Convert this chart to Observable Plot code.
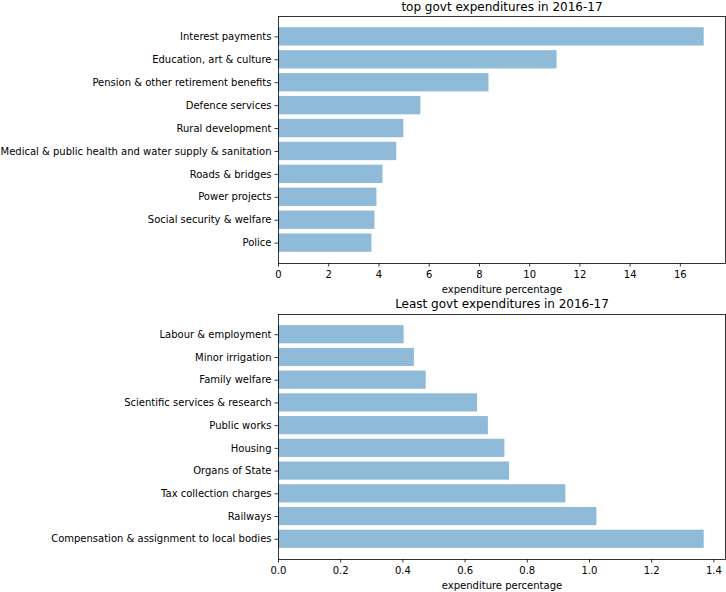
<!DOCTYPE html>
<html>
<head>
<meta charset="utf-8">
<script src="https://cdn.jsdelivr.net/npm/d3@7"></script>
<script src="https://cdn.jsdelivr.net/npm/@observablehq/plot@0.6"></script>
<style>
  html, body { margin: 0; padding: 0; background: #fff; }
  #chart { width: 726px; }
  #chart svg { display: block; }
</style>
</head>
<body>
<div id="chart"></div>
<script>
const topCategories = [
  "Interest payments",
  "Education, art & culture",
  "Pension & other retirement benefits",
  "Defence services",
  "Rural development",
  "Medical & public health and water supply & sanitation",
  "Roads & bridges",
  "Power projects",
  "Social security & welfare",
  "Police"
];
const topValues = [16.95, 11.09, 8.38, 5.67, 4.99, 4.71, 4.16, 3.92, 3.84, 3.72];

const leastCategories = [
  "Labour & employment",
  "Minor irrigation",
  "Family welfare",
  "Scientific services & research",
  "Public works",
  "Housing",
  "Organs of State",
  "Tax collection charges",
  "Railways",
  "Compensation & assignment to local bodies"
];
const leastValues = [0.404, 0.437, 0.475, 0.640, 0.675, 0.728, 0.743, 0.924, 1.024, 1.369];

const topTicks = [0, 2, 4, 6, 8, 10, 12, 14, 16];
const leastTicks = [0, 0.2, 0.4, 0.6, 0.8, 1.0, 1.2, 1.4];

const xLabel = "expenditure percentage";
const topTitle = "top govt expenditures in 2016-17";
const leastTitle = "Least govt expenditures in 2016-17";

function makeChart(cats, vals, ticks, fmt, title, marginTop, titleDy) {
  const data = cats.map((c, i) => ({category: c, value: vals[i]}));
  const xmax = d3.max(vals) * 1.05;
  return Plot.plot({
    width: 726,
    height: 296,
    marginLeft: 278,
    marginRight: 1,
    marginTop: marginTop,
    marginBottom: 33,
    style: {fontFamily: "DejaVu Sans", fontSize: "10px", color: "black", background: "white"},
    x: {domain: [0, xmax]},
    y: {domain: cats, paddingInner: 0.2, paddingOuter: 0.49, round: false},
    marks: [
      Plot.barX(data, {x: "value", y: "category", fill: "#1f77b4", fillOpacity: 0.5}),
      Plot.frame({stroke: "black", strokeWidth: 0.8}),
      Plot.axisX({ticks: ticks, tickFormat: fmt, tickSize: 3.5, tickPadding: 3.5, strokeWidth: 0.8, label: null}),
      Plot.axisY({tickSize: 3.5, tickPadding: 3.5, strokeWidth: 0.8, label: null}),
      Plot.text([xLabel], {text: d => d, frameAnchor: "bottom", lineAnchor: "middle", dy: 26, fontSize: 10}),
      Plot.text([title], {text: d => d, frameAnchor: "top", lineAnchor: "middle", dy: -titleDy, fontSize: 12})
    ]
  });
}

const chart = document.getElementById("chart");
chart.appendChild(makeChart(topCategories, topValues, topTicks, d3.format("d"), topTitle, 16, 9));
chart.appendChild(makeChart(leastCategories, leastValues, leastTicks, d3.format(".1f"), leastTitle, 18, 10));
</script>
</body>
</html>
